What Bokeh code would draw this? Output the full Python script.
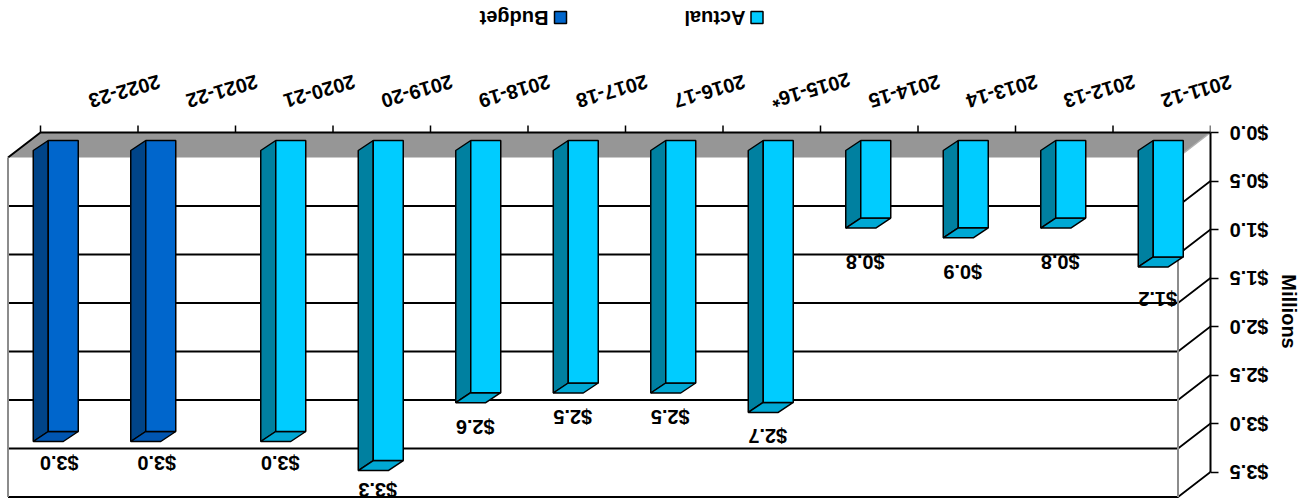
import math
from bokeh.plotting import figure
from bokeh.models import Range1d, LinearAxis, FixedTicker, CustomJSTickFormatter
from bokeh.core.properties import value
from bokeh.embed import file_html
from bokeh.resources import INLINE

# ---------------- data ----------------
categories = ["2011-12", "2012-13", "2013-14", "2014-15", "2015-16*", "2016-17",
              "2017-18", "2018-19", "2019-20", "2020-21", "2021-22", "2022-23"]
actual = [1.2, 0.8, 0.9, 0.8, 2.7, 2.5, 2.5, 2.6, 3.3, 3.0, None, None]
budget = [None, None, None, None, None, None, None, None, None, None, 3.0, 3.0]
series_names = ["Actual", "Budget"]
y_ticks = [0.0, 0.5, 1.0, 1.5, 2.0, 2.5, 3.0, 3.5]
y_tick_labels = ["$0.0", "$0.5", "$1.0", "$1.5", "$2.0", "$2.5", "$3.0", "$3.5"]
axis_title = "Millions"

# ---------------- layout helpers (pixels -> data units) ----------------
W, H = 1312, 502
FRAME_W = 1210
X0, PX = 40.0, 97.5      # screen x of first category boundary, px per category
Y0, PY = 132.0, 97.0     # screen y of value 0, px per value unit


def ox(px):
    return px / PX


def oy(py):
    return py / PY


def sx(px):
    return (px - X0) / PX


def sy(py):
    return (py - Y0) / PY


n = len(categories)
centers = [n - 1 - i + 0.5 for i in range(n)]   # chart is shown rotated by 180 degrees

FONT = value("Liberation Sans")
FS = "20px"

p = figure(width=W, height=H, output_backend="svg", toolbar_location=None,
           x_range=Range1d(sx(0), sx(FRAME_W)), y_range=Range1d(sy(H), sy(0)),
           x_axis_location=None, y_axis_location=None,
           min_border_left=0, min_border_top=0, min_border_bottom=0, min_border_right=W - FRAME_W)
p.outline_line_color = None
p.xgrid.visible = False
p.ygrid.visible = False
p.background_fill_color = "white"
p.border_fill_color = "white"

# depth of the chart box
DX, DY = ox(-32.5), oy(25)
xmax = float(n)
ymax = y_ticks[-1]

# floor
p.patch([0, xmax, xmax + DX, DX], [0, 0, DY, DY], fill_color="#969696", line_color=None)
p.line([xmax, xmax + DX], [0, DY], line_color="#b0b0b0", line_width=1.5)
p.line([DX, 0, xmax], [DY, 0, 0], line_color="black", line_width=2)

# category ticks (at boundaries)
p.segment(x0=list(range(n + 1)), y0=[0] * (n + 1), x1=list(range(n + 1)), y1=[oy(-7)] * (n + 1),
          line_color="black", line_width=1.5)

# gridlines: front horizontal + diagonal back to the axis
gx, gy = [], []
for v in y_ticks[1:]:
    gx.append([DX, xmax + DX, xmax])
    gy.append([v + DY, v + DY, v])
p.multi_line(gx, gy, line_color="black", line_width=1.8)

# front vertical edges of the box
p.segment(x0=[DX, xmax + DX], y0=[DY, DY], x1=[DX, xmax + DX], y1=[ymax + DY, ymax + DY],
          line_color="#8c8c8c", line_width=2)

# ---------------- 3D bars ----------------
BW = ox(30)
BDX, BDY = ox(-15), oy(10)
TOP = oy(8)
styles = {
    "Actual": dict(off=ox(-8.5), front="#00CCFF", side="#0080A0", bottom="#00A8D4", lab=ox(-4)),
    "Budget": dict(off=ox(-41), front="#0066CC", side="#004488", bottom="#0055B0", lab=ox(-30)),
}

for name, vals in zip(series_names, [actual, budget]):
    st = styles[name]
    lefts, rights, tops, bots = [], [], [], []
    side_x, side_y, bot_x, bot_y = [], [], [], []
    lx, ly, lt = [], [], []
    for c, v in zip(centers, vals):
        if v is None:
            continue
        l = c + st["off"]
        r = l + BW
        t = TOP
        b = v + TOP
        lefts.append(l); rights.append(r); tops.append(t); bots.append(b)
        side_x.append([l, l, l + BDX, l + BDX])
        side_y.append([t, b, b + BDY, t + BDY])
        bot_x.append([l, r, r + BDX, l + BDX])
        bot_y.append([b, b, b + BDY, b + BDY])
        lx.append(c + st["lab"]); ly.append(0.94 * v + oy(57)); lt.append("$%.1f" % v)
    p.patches(side_x, side_y, fill_color=st["side"], line_color="black", line_width=1.5)
    p.patches(bot_x, bot_y, fill_color=st["bottom"], line_color="black", line_width=1.5)
    p.quad(left=lefts, right=rights, top=tops, bottom=bots, fill_color=st["front"],
           line_color="black", line_width=1.5)
    p.text(x=lx, y=ly, text=lt, angle=math.pi, text_align="center", text_baseline="middle",
           text_font=FONT, text_font_style="bold", text_font_size=FS, text_color="black",
           level="overlay")

# category labels (rotated)
p.text(x=centers, y=[sy(101)] * n, text=categories, angle=math.pi + 0.28,
       text_align="right", text_baseline="middle",
       text_font=FONT, text_font_style="bold", text_font_size=FS, text_color="black",
       level="overlay")

# legend
leg_x = [sx(756.5), sx(560)]
p.scatter(x=leg_x, y=[sy(17)] * 2, marker="square", size=12,
          fill_color=[styles[s]["front"] for s in series_names], line_color="black", line_width=1.5)
p.text(x=[sx(745), sx(548)], y=[sy(17)] * 2, text=series_names, angle=math.pi,
       text_align="left", text_baseline="middle",
       text_font=FONT, text_font_style="bold", text_font_size=FS, text_color="black",
       level="overlay")

# axis title (reads top to bottom)
p.text(x=[sx(1288)], y=[sy(311)], text=[axis_title], angle=-math.pi / 2,
       text_align="center", text_baseline="middle",
       text_font=FONT, text_font_style="bold", text_font_size=FS, text_color="black",
       level="overlay")

# value axis on the right
yaxis = LinearAxis(ticker=FixedTicker(ticks=y_ticks, minor_ticks=[]), bounds=(0, ymax),
                   formatter=CustomJSTickFormatter(args=dict(tvals=y_ticks, tlabels=y_tick_labels),
                                                   code="const i = tvals.indexOf(tick); return i >= 0 ? tlabels[i] : '';"))
yaxis.major_label_orientation = math.pi
yaxis.axis_line_color = "black"
yaxis.axis_line_width = 2
yaxis.major_tick_line_color = "black"
yaxis.major_tick_line_width = 1.5
yaxis.major_tick_out = 8
yaxis.major_tick_in = 0
yaxis.minor_tick_line_color = None
yaxis.major_label_standoff = 50
yaxis.major_label_text_font = "Liberation Sans"
yaxis.major_label_text_font_style = "bold"
yaxis.major_label_text_font_size = FS
yaxis.major_label_text_color = "black"
p.add_layout(yaxis, "right")

open("out.html", "w").write(file_html(p, INLINE))
